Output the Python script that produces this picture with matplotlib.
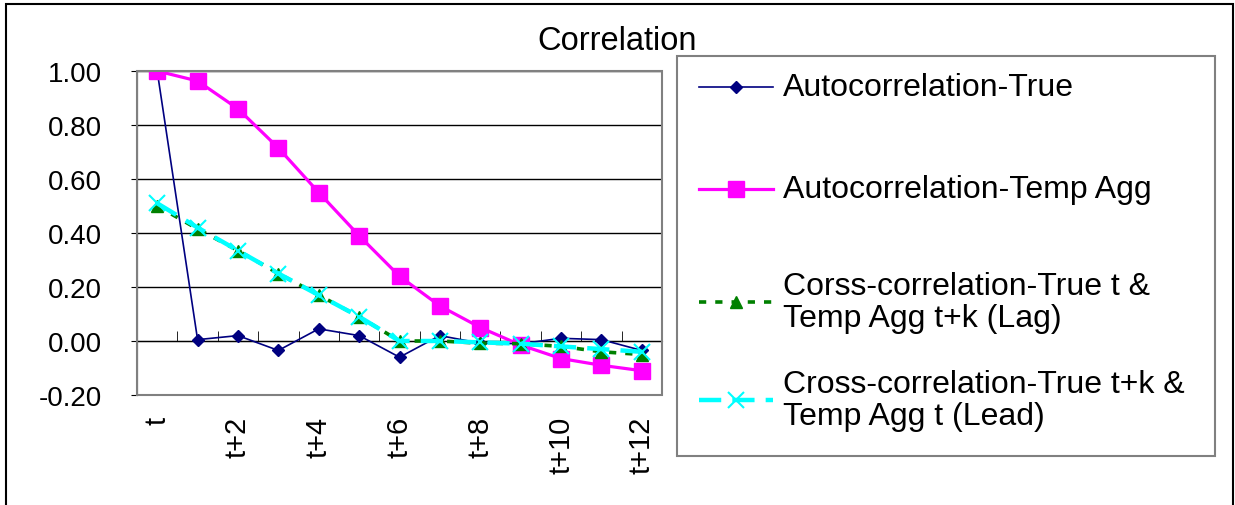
import matplotlib
matplotlib.use("Agg")
import matplotlib.pyplot as plt
from matplotlib.patches import Rectangle
from matplotlib.lines import Line2D
from matplotlib.ticker import FixedLocator, FuncFormatter

plt.rcParams['font.family'] = ['Liberation Sans', 'DejaVu Sans']

# --- data ---
lags = ['t', 't+1', 't+2', 't+3', 't+4', 't+5', 't+6',
        't+7', 't+8', 't+9', 't+10', 't+11', 't+12']
auto_true = [1.00, 0.005, 0.02, -0.035, 0.045, 0.02, -0.06,
             0.02, -0.008, -0.01, 0.01, 0.005, -0.035]
auto_temp = [1.00, 0.963, 0.86, 0.715, 0.55, 0.39, 0.24,
             0.13, 0.05, -0.015, -0.065, -0.09, -0.11]
cross_lag = [0.50, 0.415, 0.335, 0.25, 0.17, 0.09, 0.0,
             0.0, -0.008, -0.01, -0.02, -0.04, -0.05]
cross_lead = [0.51, 0.42, 0.335, 0.25, 0.17, 0.09, 0.0,
              0.0, -0.005, -0.01, -0.02, -0.03, -0.04]

labels = ['Autocorrelation-True',
          'Autocorrelation-Temp Agg',
          'Corss-correlation-True t &\nTemp Agg t+k (Lag)',
          'Cross-correlation-True t+k &\nTemp Agg t (Lead)']

W, H = 1235, 506
fig = plt.figure(figsize=(W / 100, H / 100), dpi=100)
ax = fig.add_axes([137 / W, 1 - 396 / H, 525 / W, 324 / H])

# series styles (same order as labels)
styles = [
    dict(color='#000080', lw=1.2, ls='-', marker='D', ms=6.5, zorder=3),
    dict(color='#FF00FF', lw=2.3, ls='-', marker='s', ms=11, zorder=3),
    dict(color='#008000', lw=2.6, ls=(0, (2, 2.5)), marker='^', ms=8, zorder=4),
    dict(color='#00FFFF', lw=3.2, ls=(0, (5, 2.5)), marker='x', ms=11, mew=1.5, zorder=5),
]
series = [auto_true, auto_temp, cross_lag, cross_lead]

x = list(range(len(lags)))
for vals, st in zip(series, styles):
    ax.plot(x, vals, **st)

ax.set_xlim(-0.5, len(lags) - 0.5)
ax.set_ylim(-0.2, 1.0)
ax.set_yticks([-0.2, 0.0, 0.2, 0.4, 0.6, 0.8, 1.0])
ax.yaxis.set_major_formatter(FuncFormatter(lambda v, p: f'{v:.2f}'))
ax.yaxis.grid(True, color='black', lw=1)
ax.set_axisbelow(True)
ax.tick_params(axis='y', labelsize=20, length=4, pad=21, direction='out')

# category axis crossing at zero
ax.spines['bottom'].set_position(('data', 0))
ax.spines['bottom'].set_color('black')
ax.spines['left'].set_color('black')
ax.spines['top'].set_visible(False)
ax.spines['right'].set_visible(False)
ax.set_xticks(x)
ax.set_xticklabels([l if i % 2 == 0 else '' for i, l in enumerate(lags)],
                   rotation=90, fontsize=21, va='top')
ax.xaxis.set_minor_locator(FixedLocator([i - 0.5 for i in range(len(lags) + 1)]))
ax.tick_params(axis='x', which='major', length=0, pad=54)
ax.tick_params(axis='x', which='minor', length=7, direction='in', color='black')

ax.add_patch(Rectangle((0, 0), 1, 1, transform=ax.transAxes, fill=False,
                       edgecolor='#808080', lw=1.5, clip_on=False, zorder=6))

fig.text(617 / W, 1 - 42 / H, 'Correlation', ha='center', va='center', fontsize=23.5)

# legend drawn by hand so entries sit where Excel put them
px = lambda v: v / W
py = lambda v: 1 - v / H
fig.add_artist(Rectangle((px(677), py(457)), px(1215 - 677), (457 - 57) / H,
                         transform=fig.transFigure, fill=False,
                         edgecolor='#808080', lw=1.5))
entry_y = [88, 190, 303, 401]
for lab, st, yy in zip(labels, styles, entry_y):
    st = {k: v for k, v in st.items() if k != 'zorder'}
    fig.add_artist(Line2D([px(699), px(736), px(773)], [py(yy)] * 3,
                          transform=fig.transFigure, markevery=[1], **st))
    fig.text(px(783), py(yy), lab, ha='left', va='center', fontsize=23,
             linespacing=1.1)

fig.add_artist(Rectangle((6 / W, -0.1), (1233 - 6) / W, 1.1 - 5 / H,
                         transform=fig.transFigure, fill=False,
                         edgecolor='black', lw=1.5))

fig.savefig('out.png', dpi=100)
